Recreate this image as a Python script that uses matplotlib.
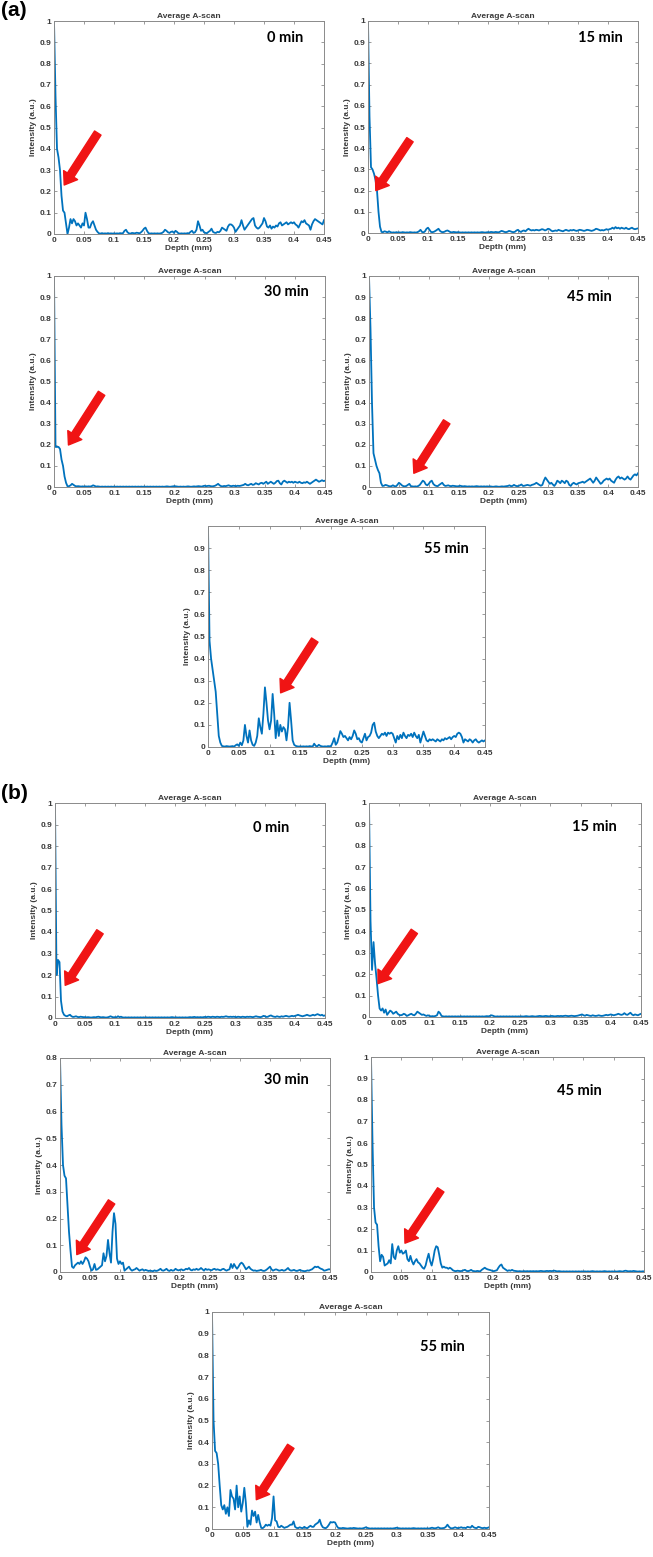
import numpy as np
import matplotlib
matplotlib.use('Agg')
import matplotlib.pyplot as plt

plt.rcParams['font.family'] = ['Liberation Sans', 'DejaVu Sans']

# depth sampling of every A-scan (mm), 0.0025 mm step
depth = np.linspace(0, 0.45, 181)

## (a) series
a_0 = [1.0, 0.65, 0.40, 0.36, 0.30, 0.18, 0.11, 0.10, 0.05, 0.0, 0.03, 0.07, 0.05, 0.07, 0.06, 0.04, 0.05, 0.04, 0.03, 0.05,
       0.04, 0.10, 0.07, 0.03, 0.03, 0.05, 0.06, 0.04, 0.02, 0.01, 0.003, 0.002, 0.004, 0.002, 0.003, 0.002, 0.004, 0.002, 0.003, 0.002,
       0.003, 0.002, 0.003, 0.002, 0.004, 0.003, 0.004, 0.015, 0.02, 0.008, 0.003, 0.002, 0.005, 0.004, 0.003, 0.006, 0.005, 0.003, 0.008, 0.015,
       0.025, 0.03, 0.015, 0.004, 0.002, 0.003, 0.002, 0.003, 0.002, 0.003, 0.002, 0.003, 0.005, 0.01, 0.02, 0.015, 0.008, 0.005, 0.01, 0.012,
       0.005, 0.015, 0.01, 0.003, 0.002, 0.003, 0.002, 0.003, 0.002, 0.004, 0.003, 0.01, 0.015, 0.005, 0.008, 0.02, 0.06, 0.04, 0.015, 0.02,
       0.008, 0.005, 0.004, 0.01, 0.015, 0.025, 0.01, 0.006, 0.005, 0.01, 0.008, 0.015, 0.03, 0.025, 0.02, 0.015, 0.035, 0.045, 0.045, 0.04,
       0.03, 0.01, 0.02, 0.03, 0.04, 0.065, 0.04, 0.02, 0.03, 0.04, 0.05, 0.06, 0.07, 0.075, 0.04, 0.03, 0.025, 0.03, 0.04, 0.05,
       0.075, 0.06, 0.035, 0.03, 0.04, 0.025, 0.035, 0.03, 0.04, 0.035, 0.05, 0.055, 0.04, 0.045, 0.05, 0.055, 0.045, 0.05, 0.055, 0.05,
       0.055, 0.045, 0.04, 0.03, 0.045, 0.06, 0.055, 0.065, 0.05, 0.045, 0.04, 0.02, 0.045, 0.06, 0.07, 0.065, 0.06, 0.055, 0.05, 0.045,
       0.065]
a_15 = [1.0, 0.55, 0.31, 0.30, 0.28, 0.25, 0.20, 0.10, 0.03, 0.005, 0.004, 0.008, 0.006, 0.003, 0.008, 0.004, 0.002, 0.003, 0.002, 0.004,
        0.002, 0.003, 0.002, 0.004, 0.003, 0.002, 0.003, 0.002, 0.004, 0.003, 0.002, 0.003, 0.002, 0.004, 0.008, 0.015, 0.005, 0.003, 0.008, 0.02,
        0.025, 0.015, 0.005, 0.004, 0.006, 0.01, 0.015, 0.02, 0.01, 0.005, 0.004, 0.006, 0.01, 0.012, 0.008, 0.004, 0.003, 0.005, 0.004, 0.003,
        0.004, 0.003, 0.002, 0.003, 0.002, 0.003, 0.002, 0.003, 0.002, 0.003, 0.002, 0.003, 0.002, 0.003, 0.002, 0.003, 0.004, 0.003, 0.002, 0.003,
        0.004, 0.003, 0.005, 0.004, 0.003, 0.005, 0.004, 0.003, 0.006, 0.01, 0.008, 0.005, 0.004, 0.006, 0.01, 0.008, 0.005, 0.004, 0.006, 0.012,
        0.015, 0.008, 0.005, 0.01, 0.012, 0.008, 0.015, 0.02, 0.015, 0.012, 0.014, 0.012, 0.015, 0.014, 0.012, 0.015, 0.018, 0.016, 0.012, 0.015,
        0.02, 0.018, 0.012, 0.008, 0.01, 0.012, 0.01, 0.015, 0.012, 0.01, 0.008, 0.012, 0.015, 0.012, 0.01, 0.014, 0.012, 0.015, 0.012, 0.01,
        0.012, 0.015, 0.014, 0.012, 0.01, 0.012, 0.015, 0.014, 0.012, 0.01, 0.012, 0.015, 0.02, 0.018, 0.015, 0.012, 0.014, 0.012, 0.015, 0.018,
        0.015, 0.018, 0.02, 0.025, 0.02, 0.028, 0.022, 0.025, 0.02, 0.025, 0.022, 0.02, 0.025, 0.02, 0.018, 0.022, 0.025, 0.02, 0.018, 0.02,
        0.022]
a_30 = [1.0, 0.19, 0.19, 0.19, 0.18, 0.13, 0.10, 0.05, 0.02, 0.003, 0.004, 0.008, 0.015, 0.01, 0.005, 0.003, 0.004, 0.003, 0.002, 0.003,
        0.002, 0.003, 0.002, 0.003, 0.002, 0.004, 0.008, 0.005, 0.002, 0.003, 0.002, 0.001, 0.002, 0.001, 0.002, 0.001, 0.002, 0.001, 0.002, 0.001,
        0.002, 0.001, 0.002, 0.001, 0.002, 0.001, 0.002, 0.001, 0.002, 0.001, 0.002, 0.001, 0.002, 0.001, 0.002, 0.001, 0.002, 0.001, 0.002, 0.001,
        0.002, 0.001, 0.002, 0.001, 0.002, 0.001, 0.002, 0.001, 0.002, 0.001, 0.002, 0.001, 0.002, 0.001, 0.002, 0.003, 0.002, 0.001, 0.002, 0.003,
        0.004, 0.003, 0.002, 0.001, 0.002, 0.001, 0.002, 0.001, 0.002, 0.003, 0.002, 0.001, 0.002, 0.003, 0.002, 0.003, 0.004, 0.003, 0.002, 0.004,
        0.006, 0.004, 0.005, 0.006, 0.004, 0.003, 0.004, 0.006, 0.01, 0.015, 0.008, 0.004, 0.003, 0.005, 0.004, 0.006, 0.008, 0.005, 0.004, 0.006,
        0.005, 0.004, 0.006, 0.005, 0.006, 0.008, 0.01, 0.015, 0.01, 0.008, 0.012, 0.015, 0.01, 0.012, 0.018, 0.015, 0.012, 0.018, 0.02, 0.015,
        0.02, 0.025, 0.015, 0.02, 0.025, 0.02, 0.015, 0.02, 0.028, 0.03, 0.018, 0.012, 0.025, 0.03, 0.025, 0.02, 0.025, 0.022, 0.025, 0.02,
        0.025, 0.022, 0.02, 0.025, 0.02, 0.018, 0.022, 0.02, 0.025, 0.02, 0.015, 0.02, 0.025, 0.03, 0.035, 0.03, 0.025, 0.028, 0.032, 0.028,
        0.03]
a_45 = [1.0, 0.75, 0.40, 0.16, 0.13, 0.10, 0.08, 0.065, 0.02, 0.005, 0.006, 0.01, 0.008, 0.005, 0.003, 0.004, 0.008, 0.004, 0.003, 0.01,
        0.02, 0.015, 0.008, 0.004, 0.003, 0.005, 0.01, 0.015, 0.004, 0.003, 0.002, 0.003, 0.002, 0.005, 0.01, 0.02, 0.03, 0.025, 0.012, 0.008,
        0.015, 0.025, 0.03, 0.015, 0.008, 0.005, 0.004, 0.01, 0.015, 0.02, 0.01, 0.005, 0.006, 0.008, 0.005, 0.004, 0.006, 0.005, 0.004, 0.003,
        0.004, 0.006, 0.004, 0.003, 0.004, 0.003, 0.002, 0.003, 0.002, 0.003, 0.002, 0.003, 0.004, 0.003, 0.002, 0.003, 0.002, 0.003, 0.002, 0.003,
        0.002, 0.003, 0.002, 0.001, 0.002, 0.003, 0.002, 0.001, 0.002, 0.003, 0.002, 0.003, 0.004, 0.005, 0.008, 0.004, 0.005, 0.01, 0.006, 0.004,
        0.005, 0.008, 0.012, 0.005, 0.006, 0.008, 0.01, 0.008, 0.006, 0.01, 0.012, 0.015, 0.02, 0.015, 0.01, 0.006, 0.01, 0.03, 0.045, 0.035,
        0.025, 0.015, 0.02, 0.012, 0.005, 0.015, 0.03, 0.025, 0.018, 0.03, 0.025, 0.018, 0.03, 0.025, 0.01, 0.005, 0.015, 0.02, 0.015, 0.012,
        0.018, 0.02, 0.022, 0.025, 0.02, 0.025, 0.03, 0.035, 0.04, 0.03, 0.02, 0.03, 0.045, 0.035, 0.025, 0.015, 0.02, 0.03, 0.035, 0.04,
        0.035, 0.04, 0.03, 0.025, 0.02, 0.035, 0.045, 0.05, 0.04, 0.045, 0.04, 0.035, 0.04, 0.05, 0.04, 0.035, 0.045, 0.055, 0.06, 0.055,
        0.065]
a_55 = [1.0, 0.48, 0.40, 0.35, 0.30, 0.25, 0.15, 0.05, 0.02, 0.005, 0.003, 0.002, 0.004, 0.003, 0.002, 0.003, 0.004, 0.002, 0.008, 0.012,
        0.005, 0.02, 0.008, 0.03, 0.10, 0.05, 0.02, 0.075, 0.03, 0.01, 0.005, 0.02, 0.05, 0.13, 0.09, 0.06, 0.15, 0.27, 0.20, 0.12,
        0.08, 0.12, 0.24, 0.15, 0.04, 0.12, 0.05, 0.10, 0.07, 0.09, 0.08, 0.03, 0.09, 0.20, 0.12, 0.03, 0.01, 0.005, 0.003, 0.002,
        0.003, 0.002, 0.003, 0.002, 0.003, 0.002, 0.004, 0.003, 0.002, 0.015, 0.005, 0.003, 0.01, 0.005, 0.003, 0.002, 0.003, 0.002, 0.004, 0.003,
        0.005, 0.02, 0.04, 0.01, 0.02, 0.045, 0.072, 0.06, 0.045, 0.05, 0.04, 0.03, 0.045, 0.035, 0.05, 0.075, 0.06, 0.035, 0.04, 0.025,
        0.02, 0.04, 0.06, 0.03, 0.045, 0.05, 0.065, 0.10, 0.11, 0.07, 0.05, 0.04, 0.05, 0.06, 0.055, 0.065, 0.05, 0.065, 0.06, 0.065,
        0.06, 0.04, 0.02, 0.05, 0.035, 0.055, 0.04, 0.065, 0.05, 0.04, 0.055, 0.05, 0.06, 0.045, 0.065, 0.05, 0.04, 0.055, 0.02, 0.045,
        0.07, 0.05, 0.03, 0.025, 0.035, 0.03, 0.035, 0.03, 0.025, 0.035, 0.03, 0.025, 0.035, 0.03, 0.04, 0.035, 0.04, 0.045, 0.035, 0.045,
        0.05, 0.045, 0.06, 0.065, 0.06, 0.045, 0.02, 0.035, 0.03, 0.025, 0.035, 0.03, 0.02, 0.03, 0.035, 0.025, 0.02, 0.025, 0.03, 0.025,
        0.03]

## (b) series
b_0 = [1.0, 0.20, 0.27, 0.26, 0.08, 0.03, 0.015, 0.01, 0.008, 0.012, 0.015, 0.008, 0.005, 0.006, 0.008, 0.005, 0.004, 0.006, 0.005, 0.004,
       0.004, 0.003, 0.004, 0.003, 0.002, 0.003, 0.004, 0.003, 0.005, 0.006, 0.004, 0.003, 0.004, 0.003, 0.002, 0.003, 0.005, 0.008, 0.005, 0.003,
       0.004, 0.003, 0.008, 0.004, 0.006, 0.003, 0.002, 0.003, 0.002, 0.003, 0.002, 0.003, 0.002, 0.003, 0.002, 0.003, 0.002, 0.003, 0.002, 0.003,
       0.002, 0.003, 0.002, 0.003, 0.002, 0.003, 0.002, 0.003, 0.002, 0.003, 0.002, 0.003, 0.002, 0.003, 0.002, 0.003, 0.002, 0.003, 0.004, 0.003,
       0.002, 0.003, 0.002, 0.003, 0.002, 0.003, 0.002, 0.003, 0.002, 0.003, 0.004, 0.003, 0.004, 0.005, 0.003, 0.004, 0.003, 0.004, 0.003, 0.004,
       0.005, 0.004, 0.006, 0.005, 0.004, 0.006, 0.005, 0.004, 0.006, 0.005, 0.004, 0.006, 0.005, 0.006, 0.008, 0.006, 0.005, 0.006, 0.005, 0.006,
       0.005, 0.004, 0.006, 0.005, 0.004, 0.006, 0.005, 0.004, 0.006, 0.005, 0.006, 0.005, 0.004, 0.006, 0.008, 0.006, 0.005, 0.004, 0.006, 0.01,
       0.008, 0.005, 0.006, 0.01, 0.012, 0.008, 0.006, 0.005, 0.008, 0.006, 0.005, 0.008, 0.006, 0.008, 0.01, 0.008, 0.006, 0.008, 0.01, 0.008,
       0.01, 0.012, 0.015, 0.012, 0.01, 0.008, 0.01, 0.012, 0.015, 0.012, 0.01, 0.012, 0.015, 0.012, 0.015, 0.018, 0.015, 0.012, 0.015, 0.01,
       0.012]
b_15 = [1.0, 0.45, 0.22, 0.35, 0.25, 0.18, 0.10, 0.04, 0.03, 0.04, 0.02, 0.035, 0.01, 0.02, 0.03, 0.025, 0.015, 0.02, 0.025, 0.015,
        0.01, 0.008, 0.01, 0.015, 0.012, 0.005, 0.008, 0.012, 0.015, 0.01, 0.008, 0.015, 0.025, 0.02, 0.015, 0.01, 0.012, 0.008, 0.005, 0.008,
        0.005, 0.003, 0.004, 0.003, 0.005, 0.008, 0.025, 0.018, 0.005, 0.003, 0.002, 0.003, 0.002, 0.003, 0.002, 0.003, 0.002, 0.003, 0.002, 0.003,
        0.002, 0.003, 0.002, 0.003, 0.002, 0.003, 0.002, 0.003, 0.002, 0.003, 0.002, 0.003, 0.002, 0.003, 0.002, 0.003, 0.002, 0.003, 0.004, 0.003,
        0.005, 0.008, 0.006, 0.003, 0.002, 0.003, 0.002, 0.003, 0.002, 0.003, 0.002, 0.003, 0.002, 0.003, 0.002, 0.003, 0.002, 0.003, 0.002, 0.003,
        0.002, 0.003, 0.002, 0.003, 0.004, 0.003, 0.002, 0.003, 0.004, 0.003, 0.002, 0.003, 0.004, 0.005, 0.004, 0.003, 0.004, 0.005, 0.004, 0.003,
        0.004, 0.005, 0.004, 0.003, 0.004, 0.005, 0.004, 0.005, 0.004, 0.005, 0.006, 0.005, 0.004, 0.005, 0.006, 0.005, 0.004, 0.005, 0.006, 0.008,
        0.01, 0.012, 0.008, 0.006, 0.01, 0.008, 0.006, 0.005, 0.008, 0.006, 0.005, 0.006, 0.008, 0.006, 0.005, 0.006, 0.008, 0.01, 0.008, 0.01,
        0.012, 0.01, 0.008, 0.01, 0.012, 0.015, 0.012, 0.01, 0.012, 0.018, 0.012, 0.01, 0.015, 0.02, 0.012, 0.008, 0.012, 0.01, 0.008, 0.012,
        0.015]
b_30 = [0.8, 0.55, 0.40, 0.36, 0.35, 0.25, 0.15, 0.08, 0.02, 0.015, 0.025, 0.03, 0.035, 0.03, 0.04, 0.03, 0.04, 0.055, 0.05, 0.04,
        0.02, 0.005, 0.01, 0.03, 0.008, 0.01, 0.015, 0.02, 0.025, 0.07, 0.04, 0.06, 0.12, 0.07, 0.035, 0.15, 0.22, 0.18, 0.05, 0.03,
        0.04, 0.03, 0.035, 0.005, 0.01, 0.015, 0.02, 0.01, 0.005, 0.008, 0.01, 0.015, 0.01, 0.005, 0.008, 0.01, 0.005, 0.008, 0.006, 0.004,
        0.005, 0.004, 0.003, 0.006, 0.004, 0.005, 0.008, 0.012, 0.006, 0.005, 0.008, 0.012, 0.006, 0.004, 0.008, 0.005, 0.006, 0.012, 0.008, 0.006,
        0.008, 0.01, 0.006, 0.008, 0.012, 0.01, 0.015, 0.008, 0.006, 0.01, 0.008, 0.012, 0.008, 0.01, 0.015, 0.01, 0.005, 0.012, 0.008, 0.01,
        0.008, 0.006, 0.01, 0.012, 0.008, 0.01, 0.008, 0.006, 0.01, 0.012, 0.008, 0.005, 0.008, 0.01, 0.03, 0.015, 0.03, 0.02, 0.012, 0.02,
        0.03, 0.035, 0.03, 0.02, 0.01, 0.015, 0.02, 0.012, 0.008, 0.005, 0.006, 0.004, 0.005, 0.006, 0.008, 0.005, 0.004, 0.006, 0.01, 0.015,
        0.02, 0.01, 0.005, 0.008, 0.01, 0.008, 0.005, 0.006, 0.008, 0.005, 0.006, 0.01, 0.015, 0.008, 0.005, 0.006, 0.008, 0.005, 0.004, 0.006,
        0.008, 0.005, 0.004, 0.003, 0.004, 0.006, 0.005, 0.008, 0.01, 0.015, 0.02, 0.018, 0.02, 0.015, 0.012, 0.01, 0.005, 0.006, 0.008, 0.01,
        0.01]
b_45 = [1.0, 0.60, 0.30, 0.23, 0.22, 0.12, 0.05, 0.08, 0.07, 0.03, 0.035, 0.04, 0.055, 0.04, 0.13, 0.07, 0.06, 0.10, 0.12, 0.09,
        0.10, 0.085, 0.09, 0.10, 0.06, 0.05, 0.075, 0.05, 0.035, 0.05, 0.06, 0.045, 0.04, 0.03, 0.02, 0.015, 0.03, 0.06, 0.085, 0.05,
        0.03, 0.06, 0.10, 0.12, 0.115, 0.08, 0.04, 0.02, 0.025, 0.02, 0.02, 0.015, 0.02, 0.015, 0.008, 0.005, 0.004, 0.006, 0.005, 0.004,
        0.005, 0.008, 0.01, 0.005, 0.004, 0.006, 0.01, 0.005, 0.004, 0.003, 0.005, 0.004, 0.003, 0.01, 0.015, 0.02, 0.015, 0.012, 0.01, 0.008,
        0.005, 0.004, 0.006, 0.008, 0.02, 0.03, 0.035, 0.02, 0.015, 0.01, 0.005, 0.008, 0.006, 0.01, 0.006, 0.005, 0.004, 0.003, 0.004, 0.003,
        0.003, 0.004, 0.003, 0.004, 0.003, 0.004, 0.003, 0.004, 0.003, 0.004, 0.003, 0.004, 0.005, 0.004, 0.003, 0.004, 0.005, 0.004, 0.005, 0.004,
        0.005, 0.006, 0.004, 0.003, 0.004, 0.003, 0.002, 0.003, 0.002, 0.003, 0.002, 0.003, 0.002, 0.003, 0.002, 0.003, 0.002, 0.003, 0.002, 0.003,
        0.002, 0.003, 0.002, 0.003, 0.002, 0.003, 0.004, 0.003, 0.002, 0.003, 0.002, 0.003, 0.002, 0.003, 0.004, 0.003, 0.002, 0.003, 0.002, 0.003,
        0.002, 0.003, 0.002, 0.003, 0.004, 0.003, 0.002, 0.005, 0.006, 0.004, 0.003, 0.004, 0.003, 0.005, 0.004, 0.003, 0.002, 0.003, 0.002, 0.003,
        0.003]
b_55 = [1.0, 0.50, 0.36, 0.35, 0.30, 0.20, 0.11, 0.09, 0.11, 0.07, 0.10, 0.06, 0.18, 0.15, 0.14, 0.09, 0.20, 0.10, 0.15, 0.08,
        0.12, 0.19, 0.12, 0.01, 0.04, 0.02, 0.085, 0.06, 0.08, 0.03, 0.065, 0.03, 0.005, 0.004, 0.01, 0.02, 0.015, 0.02, 0.015, 0.05,
        0.15, 0.04, 0.035, 0.01, 0.008, 0.015, 0.01, 0.005, 0.008, 0.01, 0.015, 0.02, 0.02, 0.035, 0.01, 0.005, 0.004, 0.008, 0.005, 0.004,
        0.01, 0.005, 0.004, 0.01, 0.015, 0.01, 0.01, 0.02, 0.025, 0.03, 0.043, 0.02, 0.008, 0.005, 0.004, 0.01, 0.02, 0.032, 0.03, 0.032,
        0.03, 0.015, 0.005, 0.004, 0.003, 0.005, 0.004, 0.003, 0.002, 0.003, 0.004, 0.003, 0.005, 0.004, 0.003, 0.002, 0.003, 0.002, 0.003, 0.005,
        0.008, 0.005, 0.003, 0.002, 0.003, 0.002, 0.003, 0.002, 0.003, 0.002, 0.003, 0.002, 0.003, 0.002, 0.003, 0.002, 0.003, 0.002, 0.003, 0.004,
        0.006, 0.004, 0.003, 0.002, 0.003, 0.002, 0.003, 0.002, 0.003, 0.002, 0.003, 0.004, 0.003, 0.002, 0.003, 0.002, 0.003, 0.002, 0.003, 0.002,
        0.003, 0.002, 0.004, 0.006, 0.004, 0.003, 0.005, 0.008, 0.004, 0.003, 0.004, 0.005, 0.01, 0.02, 0.01, 0.004, 0.003, 0.005, 0.008, 0.005,
        0.004, 0.006, 0.008, 0.005, 0.006, 0.004, 0.01, 0.008, 0.006, 0.015, 0.008, 0.005, 0.004, 0.01, 0.008, 0.005, 0.004, 0.006, 0.004, 0.005,
        0.008]

time_labels = ['0 min', '15 min', '30 min', '45 min', '55 min']
xticks = [0, 0.05, 0.1, 0.15, 0.2, 0.25, 0.3, 0.35, 0.4, 0.45]
xticklabels = ['0', '0.05', '0.1', '0.15', '0.2', '0.25', '0.3', '0.35', '0.4', '0.45']

# arrows: (tail x, tail y) -> (tip x, tip y), data coords
arrows_a = [((0.073, 0.474), (0.017, 0.23)),
            ((0.070, 0.44), (0.013, 0.20)),
            ((0.079, 0.444), (0.024, 0.199)),
            ((0.130, 0.309), (0.075, 0.065)),
            ((0.1735, 0.484), (0.118, 0.245))]
arrows_b = [((0.075, 0.401), (0.017, 0.152)),
            ((0.075, 0.40), (0.015, 0.156)),
            ((0.086, 0.262), (0.028, 0.065)),
            ((0.115, 0.382), (0.056, 0.134)),
            ((0.128, 0.381), (0.072, 0.135))]

# label positions in axes fraction
label_pos_a = [(0.855, 0.92), (0.86, 0.92), (0.856, 0.925), (0.82, 0.90), (0.86, 0.895)]
label_pos_b = [(0.80, 0.886), (0.83, 0.89), (0.84, 0.895), (0.765, 0.84), (0.833, 0.84)]

# axes boxes in pixels: left, right, top, bottom
W, H = 653, 1557
boxes_a = [(54, 324, 21, 234), (368, 638, 21, 233), (54, 325, 276, 487),
           (369, 638, 276, 487), (208, 485, 526, 747)]
boxes_b = [(55, 325, 803, 1018), (369, 641, 803, 1017), (60, 330, 1058, 1272),
           (371, 644, 1057, 1272), (212, 489, 1312, 1529)]

series_a = [a_0, a_15, a_30, a_45, a_55]
series_b = [b_0, b_15, b_30, b_45, b_55]

fig = plt.figure(figsize=(W / 100, H / 100), dpi=100)
fig.patch.set_facecolor('white')

gray = '#3a3a3a'
edge = '#8a8a8a'


def panel(box, y, arrow, lab, pos, ymax=1.0, show_top=True):
    l, r, t, b = box
    ax = fig.add_axes([l / W, 1 - b / H, (r - l) / W, (b - t) / H])
    ax.plot(depth, y, color='#0072BD', lw=1.3)
    ax.set_xlim(0, 0.45)
    ax.set_ylim(0, ymax)
    ax.set_xticks(xticks)
    ax.set_xticklabels(xticklabels)
    yt = np.round(np.arange(0, ymax + 0.001, 0.1), 1)
    ax.set_yticks(yt)
    ylabs = ['%g' % v for v in yt]
    if not show_top:
        ylabs[-1] = ''
    ax.set_yticklabels(ylabs)
    ax.tick_params(direction='in', length=2.5, width=0.6, colors=edge, labelcolor=gray,
                   labelsize=6, top=True, right=True, pad=2)
    for lbl in ax.get_xticklabels() + ax.get_yticklabels():
        lbl.set_fontweight('bold')
    for s in ax.spines.values():
        s.set_color(edge)
        s.set_linewidth(0.7)
    ax.set_title('Average A-scan', fontsize=6, fontweight='bold', color=gray, pad=2)
    ax.set_xlabel('Depth (mm)', fontsize=6, fontweight='bold', color=gray, labelpad=1)
    ax.set_ylabel('Intensity (a.u.)', fontsize=6, fontweight='bold', color=gray, labelpad=2)
    ax.text(pos[0], pos[1], lab, transform=ax.transAxes, ha='center', va='center',
            fontsize=10.5, fontweight='bold', family='Lato', color='black')
    (x0, y0), (x1, y1) = arrow
    ax.annotate('', xy=(x1, y1), xytext=(x0, y0),
                arrowprops=dict(facecolor='#f01414', edgecolor='#f01414',
                                width=5.5, headwidth=12, headlength=8.5, shrink=0))
    return ax


for i in range(5):
    panel(boxes_a[i], series_a[i], arrows_a[i], time_labels[i], label_pos_a[i],
          show_top=(i != 4))
for i in range(5):
    panel(boxes_b[i], series_b[i], arrows_b[i], time_labels[i], label_pos_b[i],
          ymax=0.8 if i == 2 else 1.0)

fig.text(1 / W, 1 - 1 / H, '(a)', fontsize=15, fontweight='bold', ha='left', va='top')
fig.text(1 / W, 1 - 784 / H, '(b)', fontsize=15, fontweight='bold', ha='left', va='top')

fig.savefig('out.png', dpi=100, facecolor='white')
